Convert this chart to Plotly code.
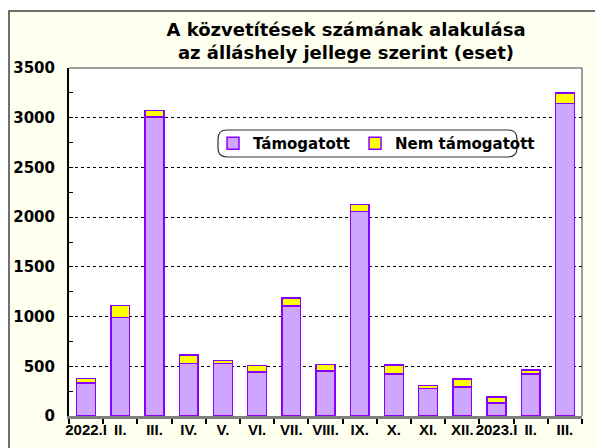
import plotly.graph_objects as go

# monthly placements, split by type of job (cases)
months = ["2022.I", "II.", "III.", "IV.", "V.", "VI.", "VII.", "VIII.", "IX.",
          "X.", "XI.", "XII.", "2023.I", "II.", "III."]
supported = [330, 990, 3005, 530, 530, 445, 1105, 455, 2055, 420, 275, 290, 130, 420, 3145]
unsupported = [45, 120, 70, 85, 30, 65, 80, 65, 70, 95, 30, 80, 60, 45, 105]

W, H = 595, 448
L, R, T, B = 69, 13, 68, 32
PW, PH = W - L - R, H - T - B

PURPLE = "#CFA6FF"
EDGE = "#8A00FF"
CREAM = "#FFFFF0"
FONT = "DejaVu Sans"


def px_x(p):
    return (p - L) / PW


def px_y(p):
    return (H - B - p) / PH


xs = list(range(len(months)))

fig = go.Figure()
fig.add_trace(go.Bar(
    x=xs, y=supported, name="Támogatott", width=0.55,
    marker=dict(color=PURPLE, line=dict(color=EDGE, width=1.5)),
))
fig.add_trace(go.Bar(
    x=xs, y=unsupported, name="Nem támogatott", width=0.55,
    marker=dict(color="#FFFF00", line=dict(color=EDGE, width=1.5)),
))

# rounded legend frame
x0, x1 = px_x(218), px_x(517)
y0, y1 = px_y(157), px_y(130)
rx, ry = 9 / PW, 9 / PH
legend_path = (
    f"M{x0 + rx},{y1} L{x1 - rx},{y1} Q{x1},{y1} {x1},{y1 - ry} "
    f"L{x1},{y0 + ry} Q{x1},{y0} {x1 - rx},{y0} L{x0 + rx},{y0} "
    f"Q{x0},{y0} {x0},{y0 + ry} L{x0},{y1 - ry} Q{x0},{y1} {x0 + rx},{y1} Z"
)

shapes = [
    # chart frame with cream fill
    dict(type="rect", xref="paper", yref="paper", layer="below",
         x0=px_x(9), x1=px_x(W + 20), y0=px_y(H + 20), y1=px_y(11),
         fillcolor=CREAM, line=dict(color="#404040", width=1.5)),
    # white plot area
    dict(type="rect", xref="paper", yref="paper", layer="below",
         x0=0, x1=1, y0=0, y1=1, fillcolor="white", line=dict(width=0)),
    # top and right plot border
    dict(type="path", xref="paper", yref="paper", layer="above",
         path="M0,1 L1,1 L1,0", line=dict(color="#404040", width=1)),
    dict(type="path", xref="paper", yref="paper", layer="above",
         path=legend_path, fillcolor="white", line=dict(color="#303030", width=1.2)),
]

fig.update_layout(
    width=W, height=H,
    margin=dict(l=L, r=R, t=T, b=B, autoexpand=False),
    paper_bgcolor="white",
    plot_bgcolor="white",
    barmode="stack",
    bargap=0.45,
    font=dict(family=FONT, color="black"),
    title=dict(
        text="<b>A közvetítések számának alakulása<br>az álláshely jellege szerint (eset)</b>",
        x=346 / W, xanchor="center",
        y=1 - 36 / H, yanchor="middle",
        font=dict(family=FONT, size=18, color="black"),
    ),
    showlegend=True,
    legend=dict(
        orientation="h",
        x=px_x(213), xanchor="left",
        y=px_y(143.5), yanchor="middle",
        bgcolor="rgba(0,0,0,0)",
        font=dict(family=FONT, size=15, color="black", weight="bold"),
        traceorder="normal",
    ),
    shapes=shapes,
)

fig.update_xaxes(
    range=[-0.5, len(months) - 0.5],
    tickmode="array", tickvals=xs, ticktext=[f"<b>{m}</b>" for m in months],
    tickfont=dict(family="Liberation Sans", size=15, color="black"),
    tickangle=0, automargin=False,
    ticks="", ticklabelstandoff=-2,
    showgrid=False, zeroline=False,
    showline=True, linecolor="#808080", linewidth=2.5,
    minor=dict(tickmode="linear", tick0=0.5, dtick=1, ticks="outside",
               ticklen=5, tickcolor="black", tickwidth=1.5),
)

fig.update_yaxes(
    range=[0, 3500], dtick=500, automargin=False,
    tickfont=dict(family=FONT, size=15, color="black", weight="bold"),
    ticks="inside", ticklen=4, tickcolor="black",
    ticklabelstandoff=9,
    showgrid=True, gridcolor="black", gridwidth=1, griddash="dot",
    zeroline=False,
    showline=True, linecolor="black", linewidth=2,
    minor=dict(dtick=250, ticks="inside", ticklen=4, tickcolor="black", showgrid=False),
)

# page body has a default 8px margin; drop it so the chart sits at the corner
fig.write_html("out.html", config={"displayModeBar": False},
               post_script="document.body.style.margin='0';")
